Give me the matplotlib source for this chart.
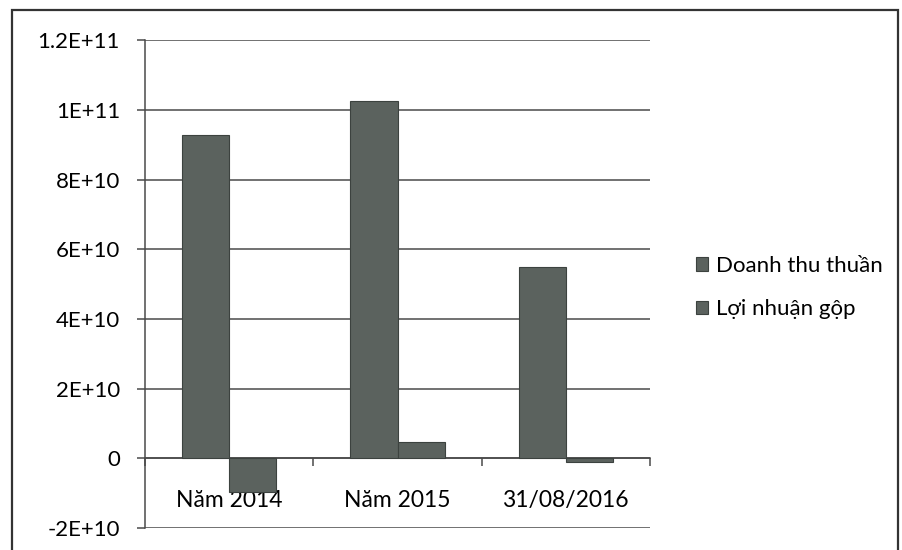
import matplotlib
matplotlib.use("Agg")
import numpy as np
import matplotlib.pyplot as plt
from matplotlib.patches import Rectangle

plt.rcParams['font.family'] = ['Lato', 'DejaVu Sans']

categories = ['Năm 2014', 'Năm 2015', '31/08/2016']
series_names = ['Doanh thu thuần', 'Lợi nhuận gộp']
doanh_thu = [9.27e10, 1.025e11, 5.5e10]
loi_nhuan = [-9.7e9, 4.6e9, -1.0e9]
y_ticks = [-2e10, 0, 2e10, 4e10, 6e10, 8e10, 1e11, 1.2e11]
y_tick_labels = ['-2E+10', '0', '2E+10', '4E+10', '6E+10', '8E+10', '1E+11', '1.2E+11']

bar_color = '#5b625e'
edge_color = '#3c423f'
line_color = '#4a4a4a'

fig = plt.figure(figsize=(9.02, 5.5), dpi=100)
ax = fig.add_axes([0.1608, 0.04, 0.5598, 0.887])

# outer chart border, like the Excel chart area
fig.patches.append(Rectangle((12 / 902, -0.01), 886 / 902, 1 - 10 / 550 + 0.01,
                             transform=fig.transFigure, fill=False,
                             edgecolor='#333333', linewidth=1.6))

x = np.arange(len(categories))
w = 0.28
ax.bar(x - w / 2, doanh_thu, w, color=bar_color, edgecolor=edge_color,
       linewidth=0.8, label=series_names[0], zorder=3)
ax.bar(x + w / 2, loi_nhuan, w, color=bar_color, edgecolor=edge_color,
       linewidth=0.8, label=series_names[1], zorder=3)

ax.set_xlim(-0.5, len(categories) - 0.5)
ax.set_ylim(y_ticks[0], y_ticks[-1])
ax.set_yticks(y_ticks)
ax.set_yticklabels(y_tick_labels, fontsize=16)
ax.yaxis.grid(True, color=line_color, linewidth=1.1, zorder=0)
ax.tick_params(axis='y', direction='out', length=6, width=1.1,
               color=line_color, pad=12)

# category axis sits at zero; ticks between categories
ax.spines['bottom'].set_position(('data', 0))
ax.spines['bottom'].set_color(line_color)
ax.spines['bottom'].set_linewidth(1.1)
ax.set_xticks(x)
ax.set_xticklabels(categories, fontsize=16.5)
ax.set_xticks(np.arange(len(categories) + 1) - 0.5, minor=True)
ax.tick_params(axis='x', which='major', length=0, pad=23)
ax.tick_params(axis='x', which='minor', direction='out', length=6,
               width=1.1, color=line_color)

ax.spines['left'].set_color(line_color)
ax.spines['left'].set_linewidth(1.1)
ax.spines['top'].set_visible(False)
ax.spines['right'].set_visible(False)

ax.legend(loc='center left', bbox_to_anchor=(0.749, 0.477),
          bbox_transform=fig.transFigure, frameon=False, fontsize=16,
          handlelength=0.55, handleheight=0.55, handletextpad=0.35,
          labelspacing=1.05)

fig.savefig('out.png', dpi=100)
